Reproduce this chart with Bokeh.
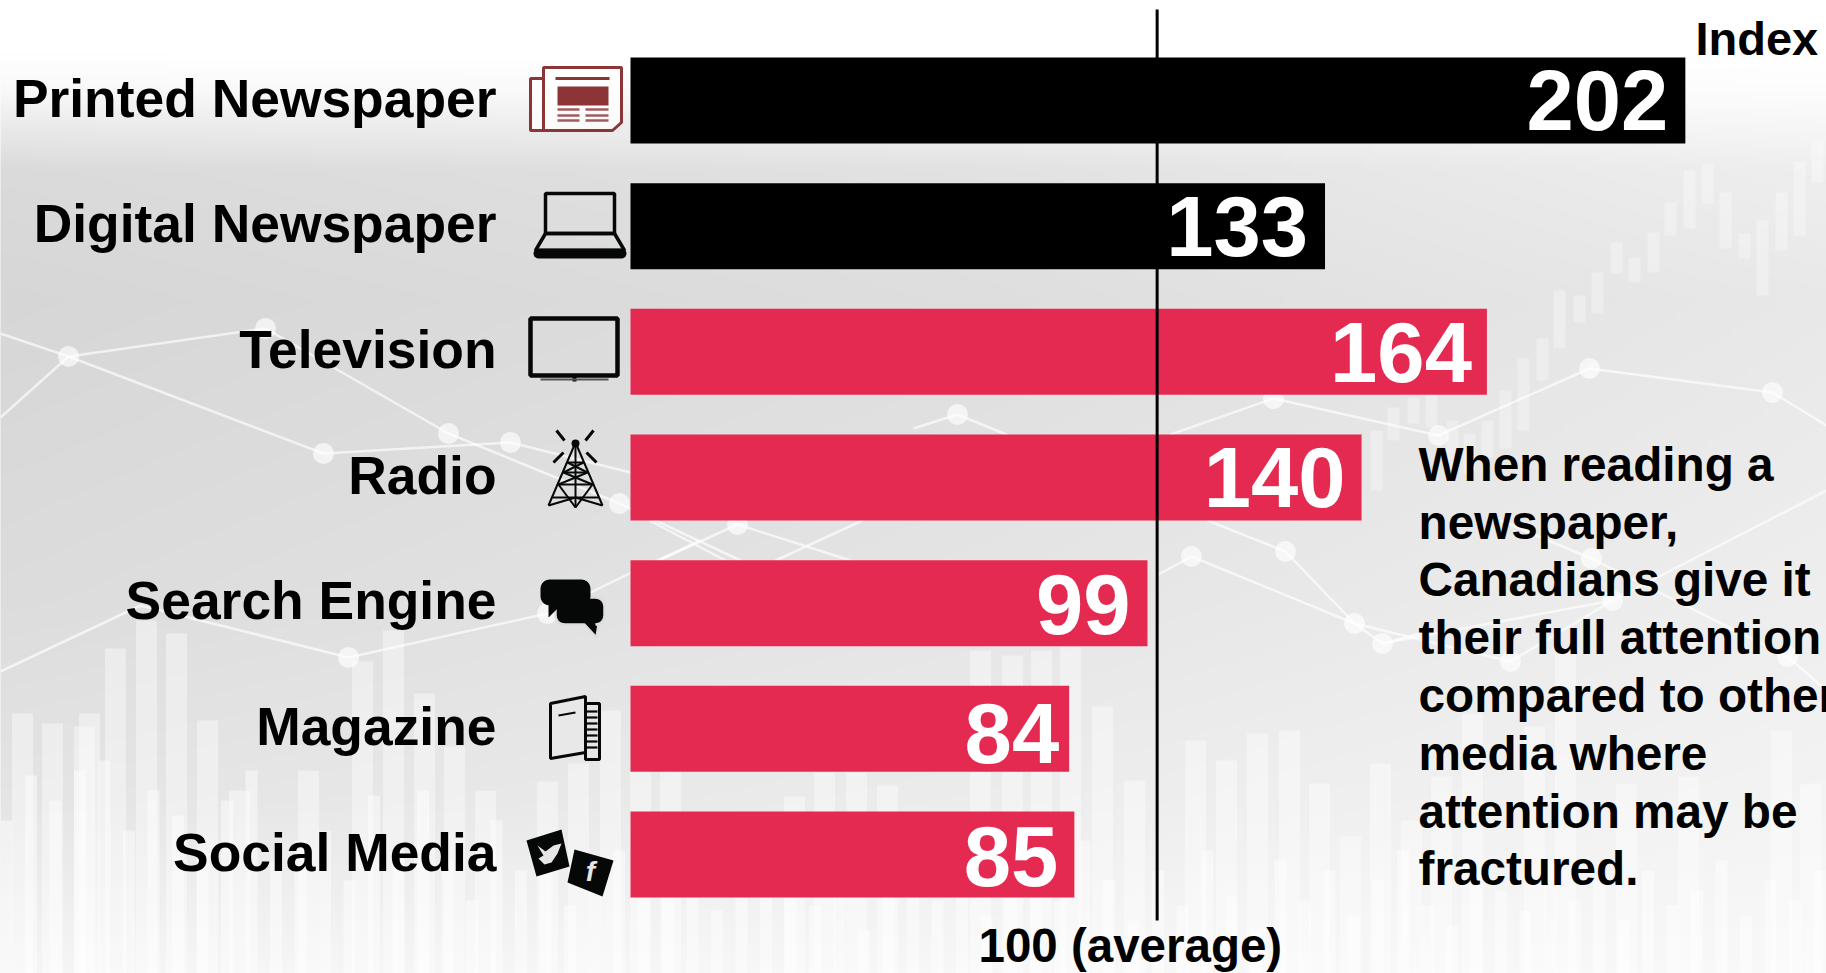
from bokeh.plotting import figure
from bokeh.embed import file_html
from bokeh.resources import INLINE
from bokeh.models import Range1d
from bokeh.core.properties import value
import numpy as np

# ---------- chart data ----------
categories = ["Printed Newspaper", "Digital Newspaper", "Television", "Radio",
              "Search Engine", "Magazine", "Social Media"]
index_values = [202, 133, 164, 140, 99, 84, 85]
average_mark = 100.85
average_label = "100 (average)"
axis_title = "Index"
note_lines = ["When reading a", "newspaper,", "Canadians give it", "their full attention",
              "compared to other", "media where", "attention may be", "fractured."]

# ---------- decorative backdrop, read in reference pixels ----------
tall_x = [22, 52, 84, 89, 115, 146, 176, 207, 239, 308, 362, 393, 424, 454, 485, 547, 578, 610,
          640, 670, 794, 824, 856, 887, 980, 1012, 1041, 1070, 1102, 1134, 1195, 1226, 1257, 1289,
          1319, 1350, 1380, 1411, 1441, 1472, 1534, 1565, 1626, 1688, 1781, 1810]
tall_top = [713, 723, 726, 713, 648, 620, 633, 720, 790, 770, 661, 630, 693, 746, 790, 781, 763, 710,
            770, 770, 796, 772, 772, 785, 650, 655, 650, 646, 706, 780, 740, 760, 733, 730,
            783, 836, 763, 820, 776, 713, 726, 653, 783, 776, 730, 783]
comb_top = [820, 775, 800, 770, 760, 830, 790, 815, 850, 800, 770, 860, 840, 830, 880, 795, 850, 790,
            860, 900, 820, 870, 840, 905, 880, 850, 900, 870, 830, 910, 860, 890, 840, 905, 870,
            930, 880, 850, 900, 860, 915, 885, 860, 900, 840, 880, 920, 870, 905, 850, 895, 930,
            860, 900, 870, 915, 880, 850, 905, 925, 870, 890, 910, 860, 900, 880, 920, 870, 905,
            890, 860, 915, 880, 900, 870]
candle_x = [1376, 1393, 1413, 1431, 1452, 1469, 1487, 1505, 1523, 1542, 1559, 1579, 1597, 1616, 1634,
            1653, 1670, 1689, 1707, 1725, 1744, 1762, 1781, 1799, 1817]
candle_top = [430, 407, 397, 393, 420, 433, 420, 390, 358, 338, 290, 295, 272, 242, 257,
              232, 202, 170, 163, 192, 233, 220, 192, 161, 140]
candle_bottom = [490, 440, 423, 427, 470, 473, 457, 448, 430, 380, 348, 322, 313, 273, 282,
                 272, 235, 228, 203, 248, 258, 295, 250, 235, 182]
net_paths = [
    ([0, 68, 265, 448, 619, 740], [333, 356, 328, 433, 503, 560]),
    ([0, 68, 323, 510, 630], [417, 356, 453, 442, 472]),
    ([658, 737, 850], [560, 524, 560]),
    ([649, 725], [520, 560]),
    ([775, 862], [560, 520]),
    ([0, 140, 348, 547, 629, 700], [671, 605, 657, 613, 573, 540]),
    ([913, 957, 1006], [428, 414, 434]),
    ([1170, 1273, 1438, 1589, 1772, 1826], [434, 398, 435, 368, 392, 425]),
    ([1156, 1191, 1354, 1510, 1612, 1826], [575, 556, 623, 661, 600, 490]),
    ([1207, 1285, 1354, 1382, 1420], [520, 551, 623, 643, 633]),
    ([1500, 1591, 1787, 1826], [520, 558, 656, 690]),
    ([1382, 1612], [643, 600]),
]
net_nodes_x = [68, 265, 448, 510, 323, 619, 737, 348, 547, 957, 1273, 1438, 1589, 1772, 1191, 1285,
               1354, 1382, 1510, 1591, 1612, 1787]
net_nodes_y = [356, 328, 433, 442, 453, 503, 524, 657, 613, 414, 398, 435, 368, 392, 556, 551,
               623, 643, 661, 558, 600, 656]

# ---------- scales ----------
W, H = 1826, 973
X0, XU = 630.0, 5.222         # reference pixel of index 0, pixels per index unit
Y0, YU = 100.0, 125.67        # reference pixel of the first row, pixels per row
BASE = 0.36                   # drop of the svg text baseline, in em

p = figure(width=W, height=H, output_backend="svg", toolbar_location=None,
           x_range=Range1d(-X0 / XU, (W - X0) / XU),
           y_range=Range1d((H - Y0) / YU, -Y0 / YU),
           min_border=0, outline_line_color=None, background_fill_color="white")
p.axis.visible = False
p.grid.visible = False
p.extra_x_ranges["px"] = Range1d(0, W)
p.extra_y_ranges["px"] = Range1d(H, 0)
p.extra_y_ranges["up"] = Range1d(-H, 0)
PX = dict(x_range_name="px", y_range_name="px")

# background shade
ys = [0, 50, 90, 130, 170, 300, 600, 800, 973]
xs = [0, 1000, 1826]
shade = np.array([[255, 255, 255], [255, 255, 255], [248, 250, 252], [232, 238, 245], [218, 226, 238],
                  [214, 222, 232], [220, 229, 238], [228, 236, 243], [245, 247, 248]], dtype=float)
gy = np.arange(H + 8, -8, -4.0)
gx = np.arange(-16, W + 16, 8.0)
cols = np.array([np.interp(gy, ys, shade[:, i]) for i in range(3)])
img = np.array([np.interp(gx, xs, cols[:, r]) for r in range(len(gy))]).round().astype(np.uint32)
rgba = (255 << 24) | (img << 16) | (img << 8) | img
p.image_rgba(image=[rgba], x=-16, y=-H - 8, dw=W + 32, dh=H + 16, x_range_name="px", y_range_name="up")

# backdrop marks
p.quad(left=[x - 10.5 for x in tall_x], right=[x + 10.5 for x in tall_x], top=tall_top,
       bottom=[973] * len(tall_x), fill_color="white", fill_alpha=0.4, line_color=None, **PX)
comb_x = list(np.arange(6, 1826, 24.5))[:len(comb_top)]
p.quad(left=[x - 6 for x in comb_x], right=[x + 6 for x in comb_x], top=comb_top,
       bottom=[973] * len(comb_x), fill_color="white", fill_alpha=0.45, line_color=None, **PX)
p.quad(left=[x - 6 for x in candle_x], right=[x + 6 for x in candle_x], top=candle_top,
       bottom=candle_bottom, fill_color="white", fill_alpha=0.3, line_color=None, **PX)
p.multi_line(xs=[a for a, b in net_paths], ys=[b for a, b in net_paths], line_color="white",
             line_alpha=0.65, line_width=2.5, **PX)
p.scatter(net_nodes_x, net_nodes_y, size=21, fill_color="white", fill_alpha=0.65, line_color=None, **PX)

# ---------- icons, drawn in reference pixels ----------
RED_DARK = "#8B3536"
INK = "#060808"


def lines(segs, color=INK, width=3.0, **kw):
    p.multi_line(xs=[[s[0], s[2]] for s in segs], ys=[[s[1], s[3]] for s in segs],
                 line_color=color, line_width=width, **PX, **kw)


def blob(x0, y0, x1, y1, r, tail):
    def arc(cx, cy, a0, a1):
        t = np.radians(np.linspace(a0, a1, 6))
        return list(cx + r * np.cos(t)), list(cy + r * np.sin(t))
    ax1, ay1 = arc(x1 - r, y0 + r, -90, 0)
    ax2, ay2 = arc(x1 - r, y1 - r, 0, 90)
    ax3, ay3 = arc(x0 + r, y1 - r, 90, 180)
    ax4, ay4 = arc(x0 + r, y0 + r, 180, 270)
    return (ax1 + ax2 + [t[0] for t in tail] + ax3 + ax4,
            ay1 + ay2 + [t[1] for t in tail] + ay3 + ay4)


# newspaper
p.patch([543, 621, 621, 612, 530, 530, 543], [67, 67, 122, 130, 130, 78, 78], fill_color="white",
        fill_alpha=0.7, line_color=RED_DARK, line_width=3, **PX)
lines([(543, 67, 543, 130)], RED_DARK, 3)
lines([(555, 78, 609, 78)], RED_DARK, 3)
p.quad(left=[557], right=[608], top=[86], bottom=[105], fill_color=RED_DARK, line_color=None, **PX)
lines([(557, yy, 579, yy) for yy in (109, 115, 120)] + [(585, yy, 608, yy) for yy in (109, 115, 120)],
      RED_DARK, 2.5, line_alpha=0.8)

# laptop
p.quad(left=[545], right=[614], top=[193], bottom=[233], fill_color=None, line_color=INK, line_width=3.5, **PX)
p.patch([545, 614, 624, 535], [233, 233, 250, 250], fill_color=None, line_color=INK, line_width=3.5, **PX)
bx, by = blob(533, 248, 626, 258, 5, [])
p.patch(bx, by, fill_color=INK, line_color=None, **PX)

# television
p.quad(left=[530], right=[617], top=[318], bottom=[375], fill_color=None, line_color=INK, line_width=4.5, **PX)
lines([(574, 375, 574, 381)], INK, 4)
lines([(540, 379, 608, 379)], "#555555", 2)

# radio tower
lines([(575, 442, 548, 505), (575, 442, 602, 505), (567, 462, 583, 462), (563, 472, 587, 472),
       (558, 484, 592, 484), (552, 497, 598, 497), (567, 462, 587, 472), (583, 462, 563, 472),
       (563, 472, 592, 484), (587, 472, 558, 484), (558, 484, 575, 507), (592, 484, 575, 507),
       (548, 505, 575, 497), (602, 505, 575, 497), (575, 442, 575, 507)], INK, 2.0)
p.scatter([575], [443], size=8, fill_color=INK, line_color=None, **PX)
lines([(556, 430, 564, 440), (593, 430, 585, 440), (553, 462, 563, 452), (596, 462, 586, 452)], INK, 3)

# chat bubbles
bx, by = blob(555, 597, 604, 624, 9, [(598, 624), (596, 637), (584, 624)])
p.patch(bx, by, fill_color=INK, line_color="#dddddd", line_width=2.5, **PX)
bx, by = blob(540, 579, 590, 605, 9, [(560, 605), (548, 617), (548, 605)])
p.patch(bx, by, fill_color=INK, line_color=None, **PX)

# magazine
p.quad(left=[585], right=[599], top=[703], bottom=[759], fill_color=None, line_color=INK, line_width=3, **PX)
p.patch([550, 585, 585, 550], [703, 696, 752, 758], fill_color="#e8e8e8", line_color=INK, line_width=3, **PX)
lines([(586, yy, 597, yy) for yy in (711, 717, 723, 729, 735, 741, 747)], INK, 2.2)
lines([(558, 715, 575, 712)], INK, 2)

# social squares
p.patch([526, 561, 569, 536], [840, 829, 866, 876], fill_color=INK, line_color=None, **PX)
p.patch([574, 613, 602, 567], [849, 860, 896, 882], fill_color=INK, line_color=None, **PX)
p.patch([537, 545, 553, 561, 557, 551, 544, 538, 543],
        [845, 851, 845, 843, 853, 862, 864, 858, 855], fill_color="#e6e6e6", line_color=None, **PX)
p.text([590], [886], text=["f"], text_color="#e6e6e6", text_font=value("Liberation Sans"),
       text_font_style="bold italic", text_font_size="28px", text_align="center", **PX)

# ---------- bars, reference line, texts ----------
rows = list(range(len(categories)))
colors = ["#000000" if i < 2 else "#E42A50" for i in rows]
p.hbar(y=rows, left=0, right=index_values, height=86 / YU, fill_color=colors, line_color=None)
p.line([average_mark, average_mark], [(9 - Y0) / YU, (920 - Y0) / YU], line_color="black", line_width=3)

FONT = value("Liberation Sans")
p.text(x=[-(X0 - 496) / XU] * len(rows), y=rows, text=categories, text_color="black", text_font=FONT,
       text_font_style="bold", text_font_size="53.4px", text_align="right", text_baseline="alphabetic",
       y_offset=17 - BASE * 53.4)
value_dx = [-17, -17, -15, -16, -17, -10, -16]
value_dy = [31, 31, 31, 31, 32, 35, 33]
p.text(x=index_values, y=rows, text=[str(v) for v in index_values], text_color="white", text_font=FONT,
       text_font_style="bold", text_font_size="85px", text_align="right", text_baseline="alphabetic",
       x_offset=value_dx, y_offset=[d - BASE * 85 for d in value_dy])
p.text([1695], [55 - BASE * 47], text=[axis_title], text_color="black", text_font=FONT, text_font_style="bold",
       text_font_size="47px", text_baseline="alphabetic", **PX)
p.text([978], [962 - BASE * 47.5], text=[average_label], text_color="black", text_font=FONT, text_font_style="bold",
       text_font_size="47.5px", text_baseline="alphabetic", **PX)
p.text([1418] * len(note_lines), [481 - BASE * 47.7 + 57.8 * i for i in range(len(note_lines))], text=note_lines,
       text_color="black", text_font=FONT, text_font_style="bold", text_font_size="47.7px",
       text_baseline="alphabetic", **PX)

open("out.html", "w").write(file_html(p, INLINE))
